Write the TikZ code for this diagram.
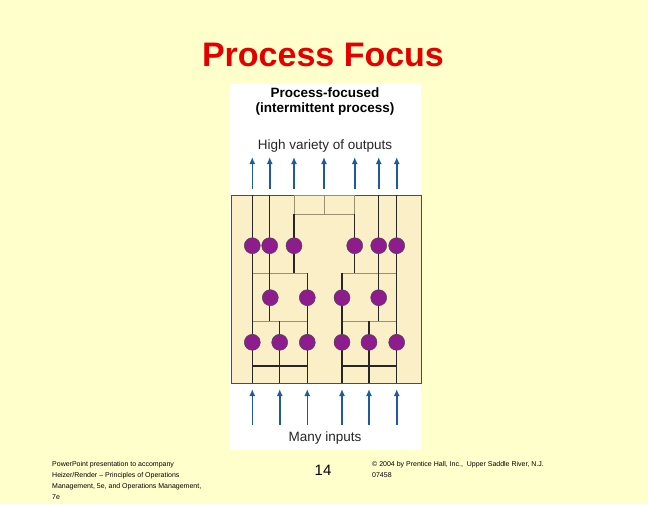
\documentclass[tikz,border=0pt]{standalone}
\usetikzlibrary{arrows.meta}
\usepackage{fontspec}
\setmainfont{Liberation Sans}
\definecolor{bg}{HTML}{FFFFCC}
\definecolor{cream}{HTML}{FBEFC8}
\definecolor{plum}{HTML}{8E1C8E}
\definecolor{arr}{HTML}{1F5A9A}
\definecolor{olive}{HTML}{9A9070}
\begin{document}
\begin{tikzpicture}[x=1pt,y=-1pt,
  dk/.style={black!85,line width=1.2pt},
  lt/.style={draw=olive,line width=0.8pt},
  dot/.style={circle,fill=plum,draw=black!70,line width=0.5pt,minimum size=16pt,inner sep=0pt},
  upar/.style={-{Latex[length=7pt,width=6pt]},line width=1.6pt,draw=arr},
  foot/.style={font=\fontsize{7}{11}\selectfont,anchor=north west,align=left,inner sep=0pt}]
\fill[bg] (0,0) rectangle (648,504);
\useasboundingbox (0,0) rectangle (648,504);
\node (title) [text=red!90!black,font=\bfseries\fontsize{34}{38}\selectfont] at (323,55) {Process Focus};
\fill[white] (230,84) rectangle (421,450);
\node (h1) [font=\bfseries\fontsize{13.5}{15}\selectfont,align=center] at (325,102) {Process-focused\\(intermittent process)};
\node (h2) [font=\fontsize{13.5}{15}\selectfont,text=black!85] at (325,146) {High variety of outputs};
\node (h3) [font=\fontsize{13.5}{15}\selectfont,text=black!85] at (325,438) {Many inputs};
\draw[fill=cream,draw=black!70,line width=0.8pt] (231,195) rectangle (421,383);
% light lines
\draw[lt] (294.7,195) rectangle (354.7,214) (324,195)--(324,214);
\draw[lt] (252.3,273.3) rectangle (307.3,321) (342,273.3) rectangle (396.7,321);
% dark lines
\foreach \x/\a/\b in {252.3/195/383,269.7/195/321,294/214/273.3,307.3/273.3/383,279.7/321/383,
  396.7/195/383,378.7/195/321,354.7/214/273.3,342/273.3/383,369/321/383}
  \draw[dk] (\x,\a)--(\x,\b);
\draw[dk] (252.3,366)--(307.3,366) (342,366)--(396.7,366);
% circles
\foreach \x [count=\i] in {252.3,269.7,294,354.7,378.7,396.7} \node[dot] (t\i) at (\x,245.7) {};
\foreach \x [count=\i] in {270.3,307.3,342,378.7} \node[dot] (m\i) at (\x,297.7) {};
\foreach \x [count=\i] in {252.3,279.7,307.3,342,369,396.7} \node[dot] (b\i) at (\x,342.3) {};
% arrows
\foreach \x [count=\i] in {252.3,269.7,294,324,354.7,378.7,396.7}{
  \coordinate (ua\i) at (\x,189); \coordinate (ub\i) at (\x,157);
  \draw[upar] (ua\i)--(ub\i);}
\foreach \x [count=\i] in {252.3,279.7,307.3,342,369,396.7}{
  \coordinate (la\i) at (\x,425); \coordinate (lb\i) at (\x,389);
  \draw[upar] (la\i)--(lb\i);}
\node (f1) [foot] at (52,461) {PowerPoint presentation to accompany\\Heizer/Render -- Principles of Operations\\Management, 5e, and Operations Management,\\7e};
\node (f2) [font=\fontsize{15}{17}\selectfont] at (323,470) {14};
\node (f3) [foot] at (372,461) {\textcopyright{} 2004 by Prentice Hall, Inc.,\ \ Upper Saddle River, N.J.\\07458};
\end{tikzpicture}
\end{document}
